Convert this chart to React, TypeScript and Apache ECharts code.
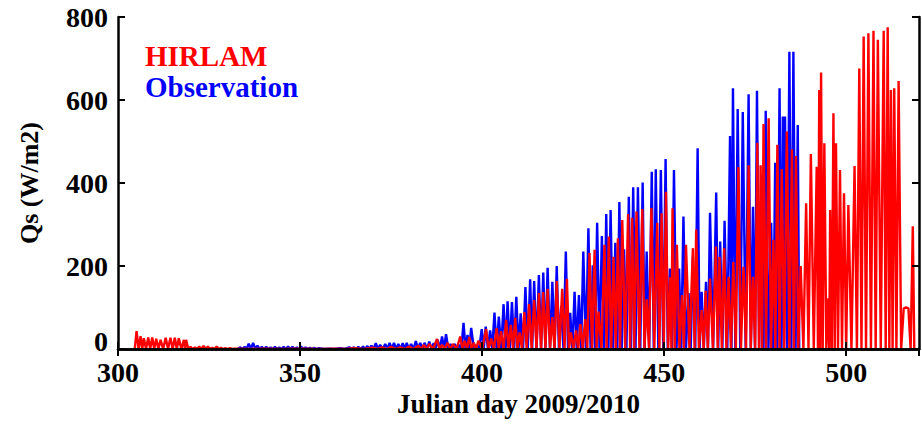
import React, { useEffect, useRef } from "react";
import * as echarts from "echarts";

// Daily peaks: [julian day, Qs (W/m2), optional night minimum after the peak]
const observationPeaks: number[][] = [
  [333.5, 4], [334.8, 5], [335.9, 13], [337.1, 15], [338.3, 8], [339.5, 5], [340.7, 5], [341.9, 4],
  [343.1, 5], [344.3, 4], [345.5, 5], [346.7, 6], [347.9, 5], [349.1, 4], [350.3, 6], [351.5, 4],
  [352.7, 3], [353.9, 3], [355.1, 2], [358.0, 1], [361.0, 2], [363.5, 4], [364.8, 4], [366.0, 5],
  [367.3, 6], [368.5, 7], [369.6, 8], [370.8, 14], [372.0, 10], [373.4, 12], [374.6, 15], [375.8, 15],
  [377.0, 12], [378.2, 14], [379.3, 15], [380.5, 12], [381.8, 19], [383.0, 15], [384.2, 15], [385.5, 18],
  [386.7, 14], [387.8, 22], [389.0, 30], [390.1, 36], [391.3, 12], [392.5, 12], [393.7, 10], [394.9, 63],
  [396.0, 34], [397.0, 51], [398.5, 10], [399.9, 48], [401.0, 54], [402.2, 45], [403.4, 88], [404.6, 78],
  [405.9, 108], [407.0, 115], [408.2, 113], [409.4, 126], [410.6, 86], [411.9, 149], [413.2, 168], [414.3, 164],
  [415.6, 178], [416.8, 184], [418.0, 196], [419.3, 162], [420.5, 200], [421.7, 104], [423.0, 235], [424.2, 87],
  [425.4, 138], [426.6, 130], [427.8, 235], [429.2, 291], [430.4, 202], [431.6, 304], [432.9, 272], [434.1, 325],
  [435.3, 335], [436.6, 256], [437.7, 354], [439.0, 240], [440.3, 367], [441.5, 390], [442.8, 390], [444.1, 401],
  [445.2, 235], [446.6, 427], [447.7, 433], [449.1, 431], [450.4, 458], [451.6, 194], [452.7, 431], [454.1, 194],
  [455.3, 319], [456.7, 135], [457.9, 222], [459.2, 484], [460.3, 138], [461.5, 162], [462.6, 328], [464.3, 377],
  [465.4, 259], [466.6, 309], [468.1, 513], [468.9, 628], [470.2, 578], [471.6, 571], [473.2, 614], [474.4, 343],
  [475.5, 622], [476.7, 420], [477.9, 574], [479.4, 304], [480.5, 449], [481.7, 628], [482.6, 560], [483.2, 560],
  [484.4, 716], [485.5, 716], [486.7, 540],
];

const hirlamPeaks: number[][] = [
  [305.1, 43], [306.2, 31], [307.1, 26], [308.3, 28], [309.4, 28], [310.5, 25], [311.7, 22], [313.1, 27],
  [314.4, 27], [315.6, 27], [316.7, 26], [318.1, 22], [318.7, 22], [319.9, 5], [321.1, 4], [322.3, 6],
  [323.5, 7], [324.7, 6], [325.9, 3], [327.1, 6], [328.3, 3], [329.5, 2], [330.7, 2], [332.0, 1],
  [340.0, 1], [350.0, 1], [360.0, 1], [365.0, 2], [370.0, 3], [372.5, 4], [375.0, 5], [377.5, 4],
  [380.0, 6], [382.5, 8], [384.0, 10], [385.5, 12], [387.6, 24], [389.0, 10], [390.5, 15], [392.0, 12],
  [394.0, 30], [395.2, 20], [396.5, 29], [397.7, 15], [399.0, 20], [401.1, 48], [402.5, 25], [404.0, 50],
  [405.2, 43], [406.6, 70], [407.9, 58], [409.1, 75], [410.3, 40], [411.6, 89], [412.9, 108], [414.3, 118],
  [415.6, 135], [416.8, 137], [418.0, 145], [419.3, 77], [420.5, 164], [422.0, 145], [423.3, 169], [424.4, 40],
  [425.8, 45], [427.0, 60], [428.3, 72], [429.5, 231], [430.9, 239], [432.0, 90], [433.6, 251], [434.8, 271],
  [436.1, 222], [437.3, 267], [438.5, 311], [440.1, 325], [441.2, 316], [442.4, 331], [444.0, 337], [445.2, 120],
  [446.5, 340], [448.1, 304], [449.3, 327], [450.5, 379], [451.7, 173], [452.3, 339], [453.5, 251], [454.9, 130],
  [456.0, 251], [457.9, 243], [458.8, 288], [460.3, 94], [461.4, 140], [462.6, 170], [464.2, 247], [465.2, 222],
  [466.5, 243], [467.7, 174], [469.0, 210], [470.4, 438], [471.8, 198], [473.2, 443], [474.4, 174], [475.6, 497],
  [476.5, 443], [477.3, 542], [478.7, 556], [480.0, 263], [481.1, 492], [482.3, 433], [483.7, 524], [485.1, 481],
  [486.2, 465], [487.5, 200], [489.0, 351], [490.3, 470], [491.9, 439], [492.6, 624], [493.1, 666], [494.0, 496],
  [495.1, 122], [495.6, 335], [496.5, 568], [497.2, 496], [498.3, 431], [499.4, 375], [500.6, 347], [502.3, 441],
  [503.6, 676], [504.8, 753], [506.1, 761], [507.5, 767], [508.7, 745], [510.3, 767], [511.4, 775], [512.3, 624],
  [513.2, 628], [514.4, 646], [515.8, 98, 100], [517.1, 98], [518.3, 296],
];

const xTicks = [300, 350, 400, 450, 500];
const yTicks = [0, 200, 400, 600, 800];
const seriesNames = ["HIRLAM", "Observation"];

function buildLine(peaks: number[][]): number[][] {
  const pts: number[][] = [];
  peaks.forEach((p, i) => {
    if (i === 0) pts.push([p[0] - 0.5, 0]);
    pts.push([p[0], p[1]]);
    const next = peaks[i + 1];
    if (next) pts.push([(p[0] + next[0]) / 2, p.length > 2 ? p[2] : 0]);
    else pts.push([p[0] + 0.4, 0]);
  });
  return pts;
}

const FONT = "'Liberation Serif', 'Times New Roman', serif";

export default function App() {
  const ref = useRef<HTMLDivElement>(null);
  useEffect(() => {
    if (!ref.current) return;
    const chart = echarts.init(ref.current, undefined, { renderer: "svg" });
    const labelStyle = {
      fontFamily: FONT,
      fontWeight: "bold" as const,
      fontSize: 28,
      lineHeight: 22,
      color: "#000",
    };
    const axisCommon = {
      type: "value" as const,
      splitLine: { show: false },
      axisLine: { show: true, lineStyle: { color: "#000", width: 2.5 } },
      axisTick: { show: true, inside: true, length: 7, lineStyle: { color: "#000", width: 2 } },
      z: 5,
    };
    chart.setOption({
      animation: false,
      backgroundColor: "#fff",
      grid: { left: 118, right: 3, top: 17, bottom: 76, containLabel: false },
      xAxis: [
        {
          ...axisCommon,
          position: "bottom",
          min: xTicks[0],
          max: 520,
          interval: 50,
          axisLabel: { ...labelStyle, margin: 12, showMaxLabel: false },
          name: "Julian day 2009/2010",
          nameLocation: "middle",
          nameGap: 34,
          nameTextStyle: { ...labelStyle, fontSize: 27 },
        },
        {
          ...axisCommon,
          position: "top",
          min: xTicks[0],
          max: 520,
          interval: 50,
          axisLabel: { show: false },
        },
      ],
      yAxis: [
        {
          ...axisCommon,
          position: "left",
          min: yTicks[0],
          max: yTicks[yTicks.length - 1],
          interval: 200,
          axisLabel: {
            ...labelStyle,
            margin: 10,
            formatter: (v: number) => (v === yTicks[0] ? `{z|${v}}` : `${v}`),
            rich: { z: { ...labelStyle, padding: [0, 0, 16, 0] } },
          },
          name: "Qs (W/m2)",
          nameLocation: "middle",
          nameRotate: 90,
          nameGap: 74,
          nameTextStyle: { ...labelStyle, fontSize: 26, lineHeight: 30 },
        },
        {
          ...axisCommon,
          position: "right",
          min: yTicks[0],
          max: yTicks[yTicks.length - 1],
          interval: 200,
          axisLabel: { show: false },
        },
      ],
      series: [
        {
          name: seriesNames[1],
          type: "line",
          xAxisIndex: 0,
          yAxisIndex: 0,
          data: buildLine(observationPeaks),
          showSymbol: false,
          lineStyle: { color: "#0000ff", width: 2.4 },
          itemStyle: { color: "#0000ff" },
          z: 2,
        },
        {
          name: seriesNames[0],
          type: "line",
          xAxisIndex: 0,
          yAxisIndex: 0,
          data: buildLine(hirlamPeaks),
          showSymbol: false,
          lineStyle: { color: "#ff0000", width: 2.4 },
          itemStyle: { color: "#ff0000" },
          z: 3,
        },
      ],
      graphic: [
        {
          type: "text",
          left: 145,
          top: 41,
          style: { text: seriesNames[0], fill: "#ff0000", font: `bold 29px ${FONT}` },
        },
        {
          type: "text",
          left: 145,
          top: 72,
          style: { text: seriesNames[1], fill: "#0000ff", font: `bold 29px ${FONT}` },
        },
      ],
    });
    return () => chart.dispose();
  }, []);
  return (
    <div
      ref={ref}
      style={{ position: "fixed", left: 0, top: 0, width: 922, height: 425, background: "#fff" }}
    />
  );
}
